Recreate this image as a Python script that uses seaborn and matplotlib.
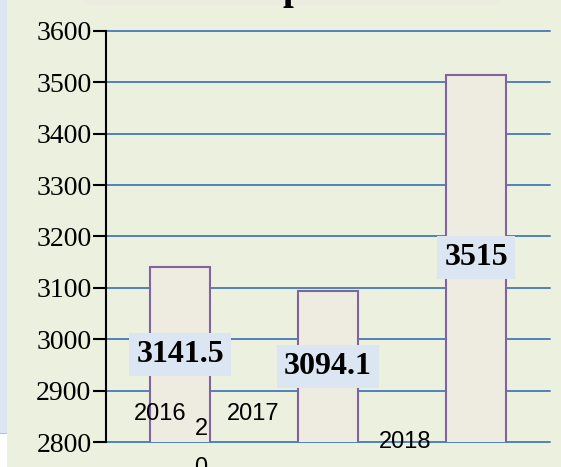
import matplotlib
matplotlib.use("Agg")
import matplotlib.pyplot as plt
from matplotlib.patches import Rectangle
import seaborn as sns

# data
years = ["2016", "2017", "2018"]
values = [3141.5, 3094.1, 3515]
y_ticks = [2800, 2900, 3000, 3100, 3200, 3300, 3400, 3500, 3600]

# stray category-label fragments as they appear in the picture
stray_labels = ["2016", "2", "2017", "0", "2018"]
stray_x = [-0.135, 0.142, 0.493, 0.142, 1.52]
stray_y = [2854, 2826, 2854, 2750, 2800]

# where the value boxes sit (data units)
label_y = [2971, 2947, 3159]

BG = "#ebf1de"
BAR_FILL = "#eeece1"
BAR_EDGE = "#8064a2"
GRID = "#4f81bd"
BOX = "#dce6f2"
SERIF = ["Liberation Serif", "DejaVu Serif"]
SANS = ["Liberation Sans", "DejaVu Sans"]

sns.set_theme(style="white")
plt.rcParams["font.family"] = SERIF

fig = plt.figure(figsize=(5.61, 4.67), dpi=100, facecolor=BG)
ax = fig.add_axes([106 / 561, 1 - 442 / 467, 444 / 561, 411 / 467])
ax.set_facecolor("none")

sns.barplot(x=years, y=values, color=BAR_FILL, saturation=1, width=0.4,
            edgecolor=BAR_EDGE, linewidth=1.5, ax=ax)

ax.set_xlim(-0.5, 2.5)
ax.set_ylim(y_ticks[0], y_ticks[-1])
ax.set_yticks(y_ticks)
ax.set_yticklabels([str(t) for t in y_ticks], family=SERIF, fontsize=20)
ax.set_xticks([])
ax.set_xlabel("")
ax.set_ylabel("")
ax.set_axisbelow(True)
ax.yaxis.grid(True, color=GRID, lw=1.4)
for gl in ax.get_ygridlines():
    gl.set_clip_on(False)

for side in ("top", "right", "bottom"):
    ax.spines[side].set_visible(False)
ax.spines["left"].set_color("black")
ax.spines["left"].set_linewidth(1.5)
ax.tick_params(axis="y", direction="out", length=9.5, width=1.5, pad=1,
               colors="black", left=True)

# value labels in light-blue boxes
for i, v in enumerate(values):
    ax.text(i, label_y[i], f"{v:g}", ha="center", va="center", fontsize=23,
            fontweight="bold", color="black", family=SERIF, zorder=5,
            bbox=dict(boxstyle="square,pad=0.22", fc=BOX, ec="none"))

# the misplaced category labels
for s, x, y in zip(stray_labels, stray_x, stray_y):
    ax.text(x, y, s, ha="center", va="center", fontsize=17, color="black",
            family=SANS, zorder=6, clip_on=False)

# slide decorations: left blue strip, white corner, cut-off title box
fig.add_artist(Rectangle((0, 1 - 433 / 467), 7 / 561, 433 / 467,
                         transform=fig.transFigure, fc=BOX, ec="none"))
fig.add_artist(Rectangle((0, 0), 7 / 561, 1 - 434 / 467,
                         transform=fig.transFigure, fc="white", ec="none"))
fig.add_artist(Rectangle((0, 1 - 434 / 467), 7 / 561, 1.2 / 467,
                         transform=fig.transFigure, fc="#bfbfbf", ec="none"))
fig.add_artist(Rectangle((84 / 561, 1 - 5 / 467), 416 / 561, 5 / 467,
                         transform=fig.transFigure, fc=BAR_FILL, ec="none"))
fig.text(293 / 561, 1 + 0.5 / 467, "p", ha="center", va="baseline",
         fontsize=28, fontweight="bold", color="black", family=SERIF)

fig.savefig("out.png", dpi=100, facecolor=BG)
